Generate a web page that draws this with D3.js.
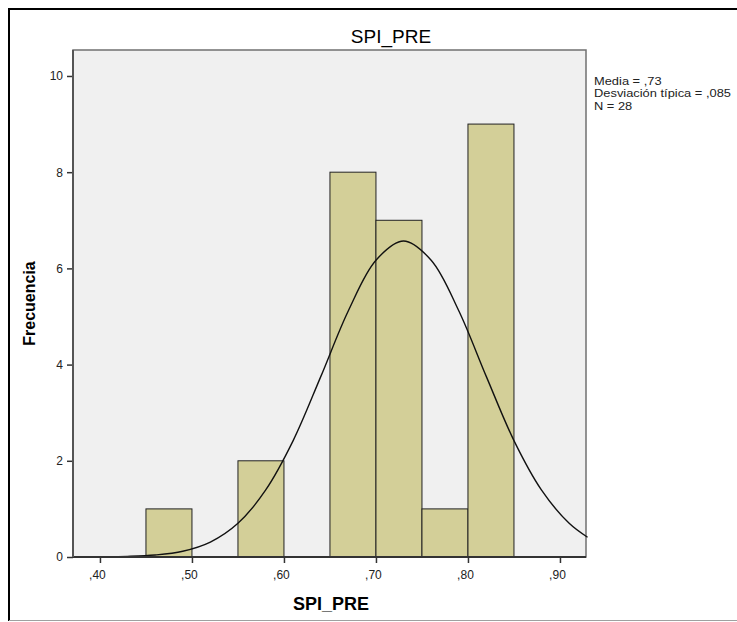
<!DOCTYPE html>
<html>
<head>
<meta charset="utf-8">
<script src="https://cdn.jsdelivr.net/npm/d3@7"></script>
<style>
  body { margin: 0; background: #fff; }
  svg { display: block; font-family: "Liberation Sans", Arial, sans-serif; }
</style>
</head>
<body>
<svg id="chart"></svg>
<script>
// histogram bins (lower edge, upper edge) and counts
let binStart = [0.45, 0.55, 0.65, 0.70, 0.75, 0.80];
let binEnd = [0.50, 0.60, 0.70, 0.75, 0.80, 0.85];
let counts = [1, 2, 8, 7, 1, 9];

// normal curve
let curveX = [0.37, 0.40, 0.43, 0.46, 0.49, 0.52, 0.55, 0.58, 0.61, 0.64, 0.67, 0.70, 0.73, 0.76, 0.79, 0.82, 0.85, 0.88, 0.91, 0.93];
let curveY = [0.001, 0.004, 0.013, 0.042, 0.12, 0.31, 0.70, 1.39, 2.42, 3.75, 5.12, 6.17, 6.57, 6.17, 5.12, 3.75, 2.42, 1.39, 0.70, 0.41];

let xTicks = [0.4, 0.5, 0.6, 0.7, 0.8, 0.9];
let yTicks = [0, 2, 4, 6, 8, 10];
let statsLines = ["Media = ,73", "Desviación típica = ,085", "N = 28"];

let width = 737;
let height = 622;
let plotLeft = 73;
let plotRight = 586;
let plotTop = 50;
let plotBottom = 557;

let svg = d3.select("#chart").attr("width", width).attr("height", height);

let xScale = d3.scaleLinear().domain([0.3707, 0.9283]).range([plotLeft, plotRight]);
let yScale = d3.scaleLinear().domain([0, 10.54]).range([plotBottom, plotTop]);

// outer frame
svg.append("line").attr("x1", 9).attr("x2", 9).attr("y1", 8).attr("y2", 621)
  .attr("stroke", "#000").attr("stroke-width", 2);
svg.append("line").attr("x1", 8).attr("x2", 737).attr("y1", 9).attr("y2", 9)
  .attr("stroke", "#000").attr("stroke-width", 2);
svg.append("line").attr("x1", 9).attr("x2", 737).attr("y1", 620.5).attr("y2", 620.5)
  .attr("stroke", "#a0a0a0").attr("stroke-width", 1);

// plot background
svg.append("rect")
  .attr("x", plotLeft).attr("y", plotTop)
  .attr("width", plotRight - plotLeft).attr("height", plotBottom - plotTop)
  .attr("fill", "#f0f0f0")
  .attr("stroke", "#707070").attr("stroke-width", 1.5);

// bars
svg.selectAll("rect.bar")
  .data(counts)
  .enter()
  .append("rect")
  .attr("class", "bar")
  .attr("x", (d, i) => xScale(binStart[i]))
  .attr("width", (d, i) => xScale(binEnd[i]) - xScale(binStart[i]))
  .attr("y", (d) => yScale(d))
  .attr("height", (d) => yScale(0) - yScale(d))
  .attr("fill", "#d3cf98")
  .attr("stroke", "#222")
  .attr("stroke-width", 1);

// normal curve
let line = d3.line()
  .x((d, i) => xScale(curveX[i]))
  .y((d) => yScale(d))
  .curve(d3.curveCatmullRom.alpha(0.5));

svg.append("path")
  .datum(curveY)
  .attr("d", line)
  .attr("fill", "none")
  .attr("stroke", "#111")
  .attr("stroke-width", 1.4);

// axes
let fmtX = (d) => "," + d3.format(".2f")(d).split(".")[1];

let xAxis = d3.axisBottom(xScale).tickValues(xTicks).tickFormat(fmtX).tickSize(6).tickSizeOuter(0);
let yAxis = d3.axisLeft(yScale).tickValues(yTicks).tickFormat(d3.format("d")).tickSize(6).tickSizeOuter(0);

let gx = svg.append("g")
  .attr("transform", "translate(0," + plotBottom + ")")
  .call(xAxis);
let gy = svg.append("g")
  .attr("transform", "translate(" + plotLeft + ",0)")
  .call(yAxis);

[gx, gy].forEach((g) => {
  g.select(".domain").remove();
  g.selectAll(".tick line").attr("stroke", "#333").attr("stroke-width", 1.5);
  g.selectAll(".tick text").attr("fill", "#222").style("font-size", "12px");
});
gx.selectAll(".tick text").attr("dy", "1.1em").attr("dx", "-3");
gy.selectAll(".tick text").attr("dx", "-1");

svg.append("line")
  .attr("x1", plotLeft).attr("x2", plotRight)
  .attr("y1", plotBottom).attr("y2", plotBottom)
  .attr("stroke", "#333").attr("stroke-width", 2);
svg.append("line")
  .attr("x1", plotLeft).attr("x2", plotLeft)
  .attr("y1", plotTop).attr("y2", plotBottom)
  .attr("stroke", "#555").attr("stroke-width", 2);

// title and axis labels
svg.append("text")
  .attr("x", 391).attr("y", 43)
  .attr("text-anchor", "middle")
  .style("font-size", "19px")
  .text("SPI_PRE");

svg.append("text")
  .attr("x", 331).attr("y", 610)
  .attr("text-anchor", "middle")
  .style("font-size", "18px").style("font-weight", "bold")
  .text("SPI_PRE");

svg.append("text")
  .attr("transform", "translate(35," + (plotTop + plotBottom) / 2 + ") rotate(-90)")
  .attr("text-anchor", "middle")
  .style("font-size", "16px").style("font-weight", "bold")
  .text("Frecuencia");

// stats box (SPSS draws it a bit wide and squat)
svg.append("g")
  .attr("transform", "translate(594,0) scale(1.17,1)")
  .selectAll("text")
  .data(statsLines)
  .enter()
  .append("text")
  .attr("x", 0)
  .attr("y", (d, i) => 85 + i * 12.5)
  .style("font-size", "11px")
  .attr("fill", "#222")
  .text((d) => d);
</script>
</body>
</html>
